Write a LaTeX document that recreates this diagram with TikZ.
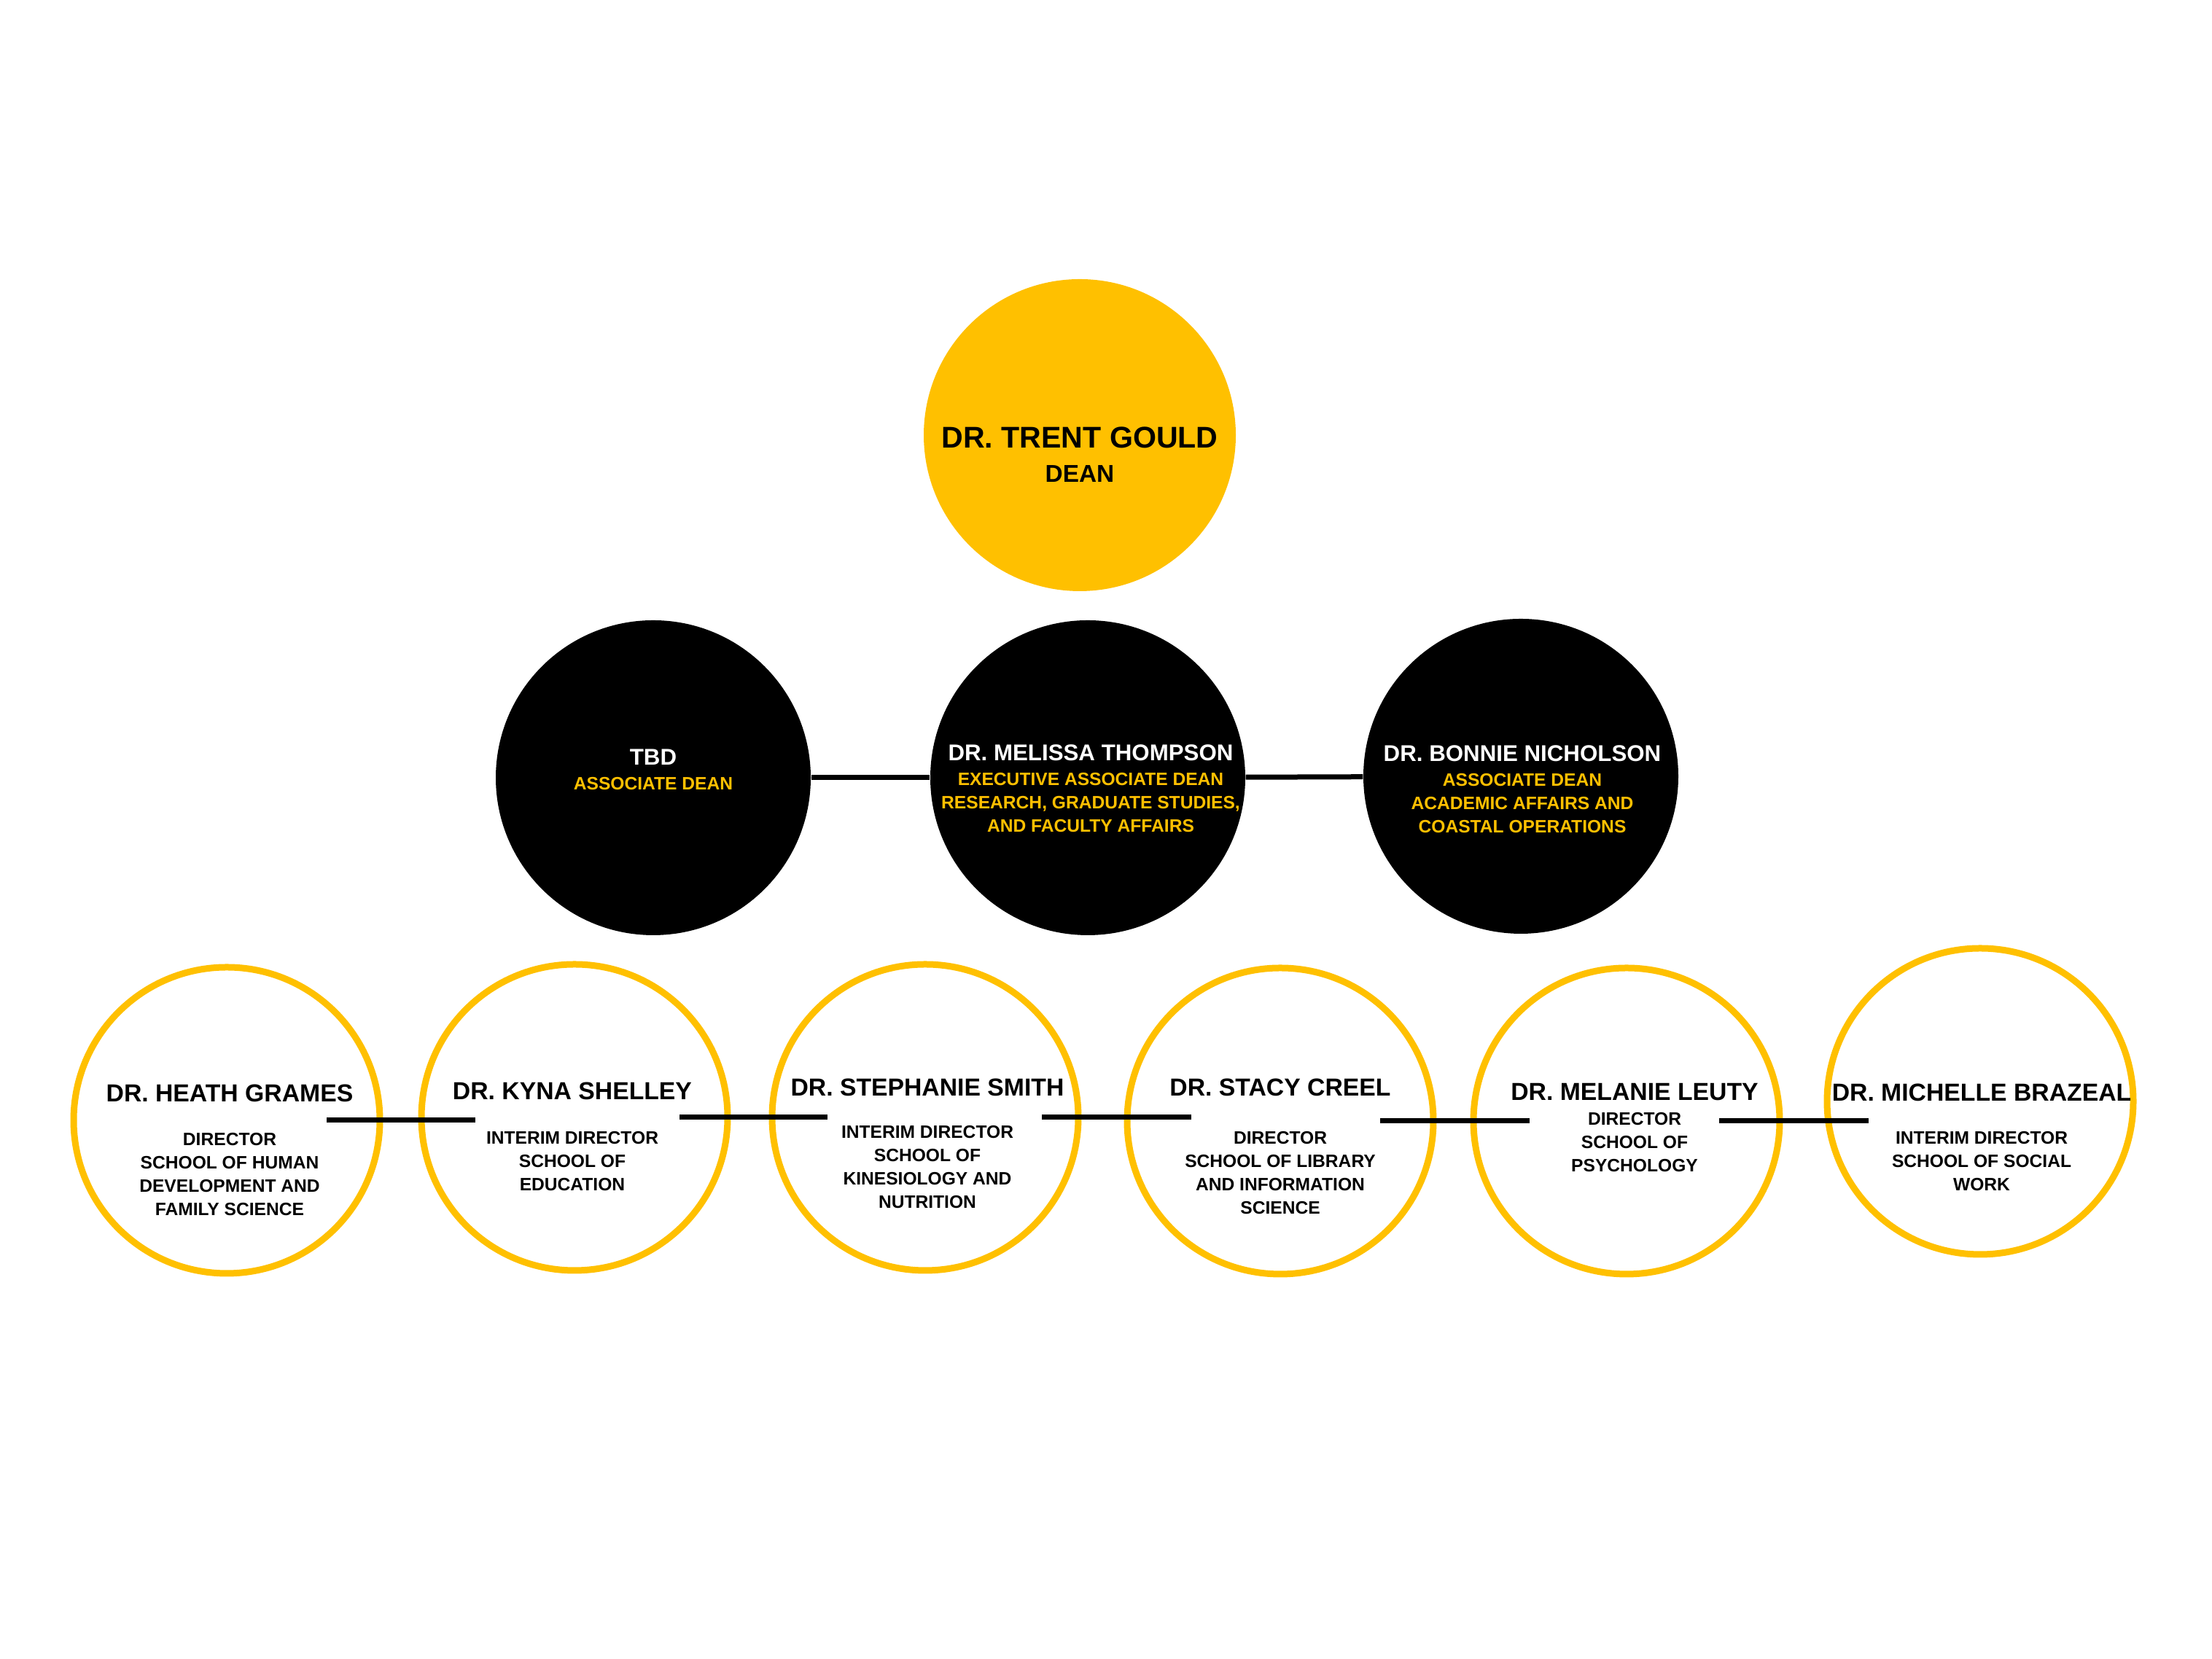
\documentclass[tikz,border=0pt]{standalone}
\usepackage{fontspec}
\setmainfont{Liberation Sans}
\definecolor{gold}{HTML}{FFC000}

\newcommand{\assochead}[1]{{\fontsize{8.9}{9}\selectfont\color{white}#1}}
\newcommand{\schoolhead}[1]{{\fontsize{9.6}{9.6}\selectfont #1}}

\begin{document}
\begin{tikzpicture}[
  dean/.style={circle, fill=gold, minimum size=4.28cm, inner sep=0pt},
  assoc/.style={circle, fill=black, minimum size=4.32cm, inner sep=0pt},
  school/.style={circle, draw=gold, line width=0.9mm, minimum size=4.2cm, inner sep=0pt},
  txt/.style={anchor=north, inner sep=0pt, align=center, font=\bfseries\fontsize{7}{9.1}\selectfont},
  link/.style={line width=0.7mm}
]
\useasboundingbox (0,0) rectangle (30.34,22.76);

% dean
\node[dean] (dean) at (14.81,16.79) {};
\node[txt, font=\bfseries\fontsize{9.5}{13.4}\selectfont] (deantxt) at (14.81,16.91)
  {{\fontsize{11.7}{13.4}\selectfont DR. TRENT GOULD}\\DEAN};

% associate deans
\node[assoc] (tbd) at (8.96,12.09) {};
\node[assoc] (melissa) at (14.92,12.09) {};
\node[assoc] (bonnie) at (20.86,12.11) {};

\node[txt, text=gold] (tbdtxt) at (8.96,12.49)
  {\assochead{TBD}\\[0.6pt]ASSOCIATE DEAN};
\node[txt, text=gold] (melissatxt) at (14.96,12.55)
  {\assochead{DR. MELISSA THOMPSON}\\[0.6pt]EXECUTIVE ASSOCIATE DEAN\\RESEARCH, GRADUATE STUDIES,\\AND FACULTY AFFAIRS};
\node[txt, text=gold] (bonnietxt) at (20.88,12.54)
  {\assochead{DR. BONNIE NICHOLSON}\\[0.6pt]ASSOCIATE DEAN\\ACADEMIC AFFAIRS AND\\COASTAL OPERATIONS};

% school directors
\node[school] (heath) at (3.11,7.39) {};
\node[school] (kyna) at (7.88,7.43) {};
\node[school] (stephanie) at (12.69,7.43) {};
\node[school] (stacy) at (17.56,7.38) {};
\node[school] (melanie) at (22.31,7.38) {};
\node[school] (michelle) at (27.16,7.65) {};

\node[txt] (heathtxt) at (3.15,7.89)
  {\schoolhead{DR. HEATH GRAMES}\\[8pt]DIRECTOR\\SCHOOL OF HUMAN\\DEVELOPMENT AND\\FAMILY SCIENCE};
\node[txt] (kynatxt) at (7.85,7.92)
  {\schoolhead{DR. KYNA SHELLEY}\\[8.3pt]INTERIM DIRECTOR\\SCHOOL OF\\EDUCATION};
\node[txt] (stephanietxt) at (12.72,7.97)
  {\schoolhead{DR. STEPHANIE SMITH}\\[7.4pt]INTERIM DIRECTOR\\SCHOOL OF\\KINESIOLOGY AND\\NUTRITION};
\node[txt] (stacytxt) at (17.56,7.97)
  {\schoolhead{DR. STACY CREEL}\\[9.7pt]DIRECTOR\\SCHOOL OF LIBRARY\\AND INFORMATION\\SCIENCE};
\node[txt] (melanietxt) at (22.42,7.90)
  {\schoolhead{DR. MELANIE LEUTY}\\[0.6pt]DIRECTOR\\SCHOOL OF\\PSYCHOLOGY};
\node[txt] (michelletxt) at (27.18,7.90)
  {\schoolhead{DR. MICHELLE BRAZEAL}\\[7.7pt]INTERIM DIRECTOR\\SCHOOL OF SOCIAL\\WORK};

% connectors
\draw[link] (tbd) -- (melissa);
\draw[link] (melissa) -- (bonnie);

\draw[link] ([xshift=-7.75mm]heath.east) -- ([xshift=7.85mm]kyna.west |- heath.east);
\draw[link] ([xshift=-7.05mm]kyna.east) -- ([xshift=8.05mm]stephanie.west |- kyna.east);
\draw[link] ([xshift=-5.45mm]stephanie.east) -- ([xshift=9.25mm]stacy.west |- stephanie.east);
\draw[link] ([xshift=-7.75mm]stacy.east) -- ([xshift=8.15mm]melanie.west |- stacy.east);
\draw[link] ([xshift=-8.75mm]melanie.east) -- ([xshift=6.15mm]michelle.west |- melanie.east);
\end{tikzpicture}
\end{document}
